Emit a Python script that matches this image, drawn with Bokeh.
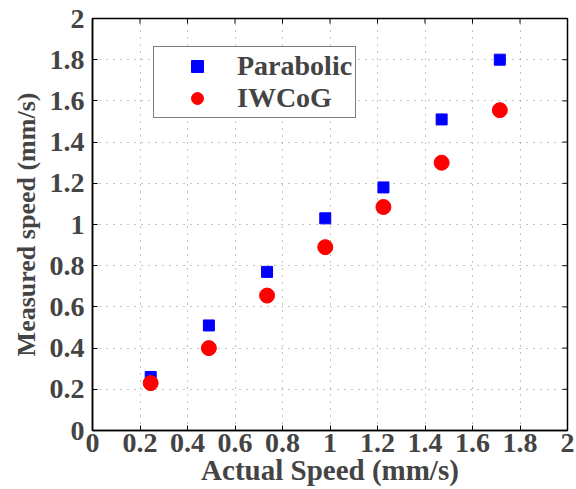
import math
from bokeh.plotting import figure
from bokeh.models import FixedTicker, Legend, LegendItem, Range1d
from bokeh.embed import file_html
from bokeh.resources import INLINE

actual_speed = [0.245, 0.49, 0.735, 0.98, 1.225, 1.47, 1.715]
parabolic = [0.26, 0.51, 0.77, 1.03, 1.18, 1.51, 1.80]
iwcog = [0.23, 0.40, 0.655, 0.89, 1.085, 1.30, 1.555]
ticks = [0, 0.2, 0.4, 0.6, 0.8, 1, 1.2, 1.4, 1.6, 1.8, 2]
tick_labels = ["0", "0.2", "0.4", "0.6", "0.8", "1", "1.2", "1.4", "1.6", "1.8", "2"]

FONT = "Liberation Serif"

p = figure(width=576, height=489, output_backend="svg", toolbar_location=None,
           x_range=Range1d(ticks[0], ticks[-1]), y_range=Range1d(ticks[0], ticks[-1]),
           min_border_left=92, min_border_right=9, min_border_top=18, min_border_bottom=59)
p.outline_line_color = "black"
p.outline_line_width = 1.5

overrides = {t: l for t, l in zip(ticks, tick_labels)}
for ax, lab, size in ((p.xaxis[0], "Actual Speed (mm/s)", "29px"),
                      (p.yaxis[0], "Measured speed (mm/s)", "26px")):
    ax.ticker = FixedTicker(ticks=ticks)
    ax.major_label_overrides = overrides
    ax.axis_label = lab
    ax.axis_label_text_font = FONT
    ax.axis_label_text_font_style = "bold"
    ax.axis_label_text_font_size = size
    ax.major_label_text_font = FONT
    ax.major_label_text_font_style = "bold"
    ax.major_label_text_font_size = "28px"
    ax.major_tick_in = 5
    ax.major_tick_out = 0
    ax.minor_tick_line_color = None
    ax.axis_line_width = 1.5
    ax.major_tick_line_width = 1
p.xaxis[0].axis_label_standoff = -1
p.xaxis[0].major_label_standoff = 3
p.yaxis[0].axis_label_standoff = 6
p.yaxis[0].major_label_standoff = 8

p.xgrid.ticker = FixedTicker(ticks=ticks)
p.ygrid.ticker = FixedTicker(ticks=ticks)
p.grid.grid_line_color = "#888888"
p.grid.grid_line_dash = "1 6"
p.grid.grid_line_width = 1

# tick marks on the right and top edges (MATLAB box style)
p.scatter([ticks[-1]] * len(ticks), ticks, marker="dash", size=10,
          line_color="black", line_width=1)
p.scatter(ticks, [ticks[-1]] * len(ticks), marker="dash", size=10, angle=math.pi / 2,
          line_color="black", line_width=1)

r1 = p.scatter(actual_speed, parabolic, marker="square", size=11, color="#0000ff")
r2 = p.scatter(actual_speed, iwcog, marker="circle", size=15, color="#ff0000")

legend = Legend(items=[LegendItem(label="Parabolic", renderers=[r1]),
                       LegendItem(label="IWCoG", renderers=[r2])],
                location=(61, 312), padding=3, margin=0, glyph_width=80,
                glyph_height=30, label_height=30, spacing=0, label_standoff=0,
                label_text_font=FONT, label_text_font_style="bold",
                label_text_font_size="28px", label_text_line_height=1.0,
                border_line_color="black",
                border_line_width=1.5, background_fill_alpha=1)
p.add_layout(legend)

open("out.html", "w").write(file_html(p, INLINE))
